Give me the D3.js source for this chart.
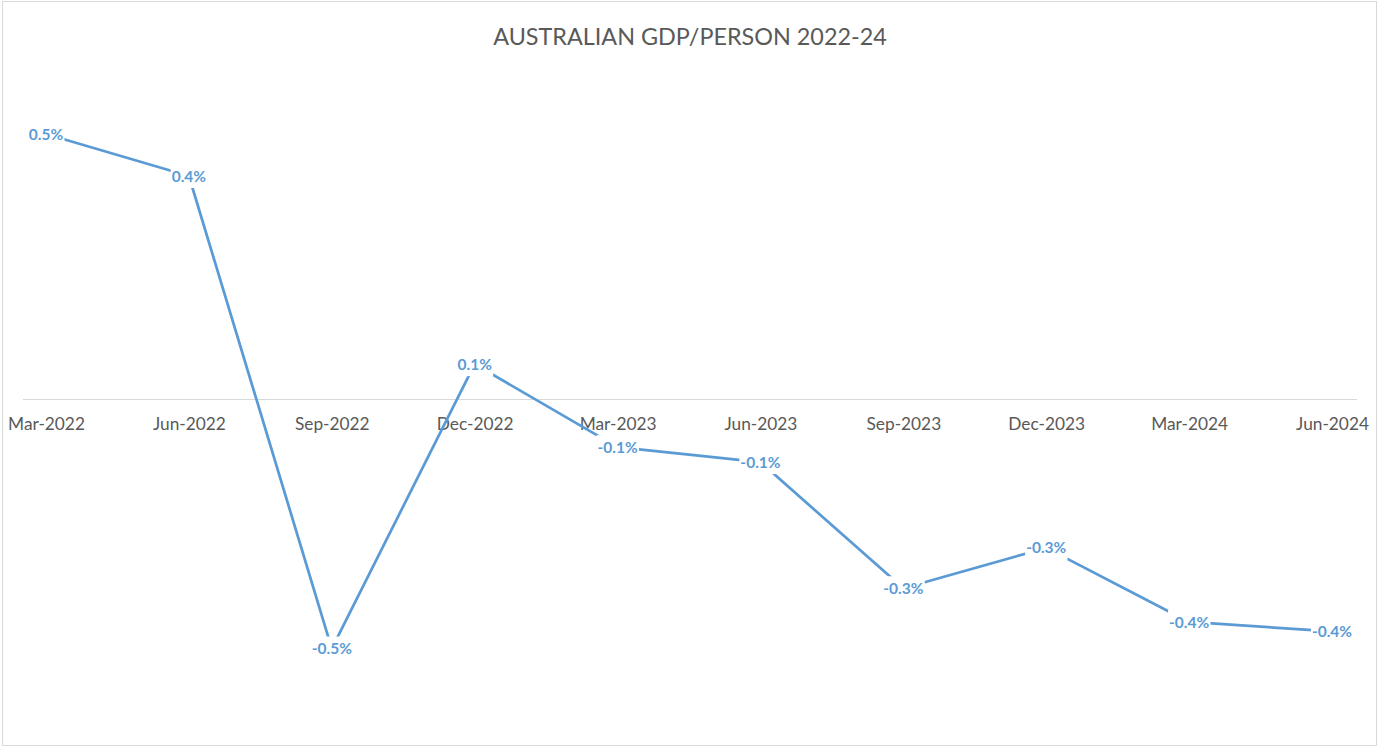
<!DOCTYPE html>
<html><head><meta charset="utf-8">
<script src="https://cdn.jsdelivr.net/npm/d3@7"></script>
<style>body{margin:0;background:#fff} svg{display:block}</style>
</head><body>
<svg id="c" width="1380" height="749"></svg>
<script>
const title = "AUSTRALIAN GDP/PERSON 2022-24";
const categories = ["Mar-2022","Jun-2022","Sep-2022","Dec-2022","Mar-2023","Jun-2023","Sep-2023","Dec-2023","Mar-2024","Jun-2024"];
// quarterly change, percent
const values = [0.479, 0.403, -0.451, 0.063, -0.087, -0.114, -0.342, -0.269, -0.403, -0.42];
const yDomain = [-0.6, 0.6];

const fmt = v => d3.format(".1f")(v).replace("\u2212", "-") + "%";
const font = "Lato, 'Open Sans', sans-serif";
const blue = "#5B9BD5", grey = "#595959";

const svg = d3.select("#c");
svg.append("rect").attr("x", 2.5).attr("y", 1.5).attr("width", 1374).attr("height", 744)
  .attr("fill", "#fff").attr("stroke", "#d9d9d9");

const x = d3.scalePoint().domain(categories).range([46, 1332]);
const y = d3.scaleLinear().domain(yDomain).range([731, 67]);

// title, sized to the reference width
const t = svg.append("text").attr("x", 690).attr("y", 45).attr("text-anchor", "middle")
  .attr("fill", grey).style("font-family", font).style("font-size", "24px").text(title);
const tw = t.node().getComputedTextLength();
t.style("font-size", (24 * 394 / tw) + "px");

// zero axis line
svg.append("line").attr("x1", x.range()[0] - 23).attr("x2", x.range()[1] + 25)
  .attr("y1", y(0) + 0.5).attr("y2", y(0) + 0.5).attr("stroke", "#d9d9d9").attr("stroke-width", 1);

const ax = svg.append("g").attr("transform", `translate(0,${y(0)})`)
  .call(d3.axisBottom(x).tickSize(0));
ax.select(".domain").remove();
ax.selectAll("text").attr("y", 31).attr("dy", null)
  .attr("fill", grey).style("font-family", font).style("font-size", "17.3px");

// line
svg.append("path").datum(values)
  .attr("fill", "none").attr("stroke", blue).attr("stroke-width", 2.75)
  .attr("stroke-linejoin", "round").attr("stroke-linecap", "round")
  .attr("d", d3.line().x((d, i) => x(categories[i])).y(d => y(d)));

// data labels with white background
const lg = svg.append("g").selectAll("g").data(values).join("g")
  .attr("transform", (d, i) => `translate(${x(categories[i])},${y(d)})`);
const rects = lg.append("rect").attr("fill", "#fff");
const texts = lg.append("text").attr("text-anchor", "middle").attr("dy", "0.36em")
  .attr("fill", blue).style("font-family", font).style("font-weight", "bold").style("font-size", "15.5px")
  .text(d => fmt(d));
texts.each(function(d, i) {
  const b = this.getBBox();
  d3.select(rects.nodes()[i]).attr("x", b.x - 1).attr("width", b.width + 2).attr("y", -12).attr("height", 24);
});
</script>
</body></html>
